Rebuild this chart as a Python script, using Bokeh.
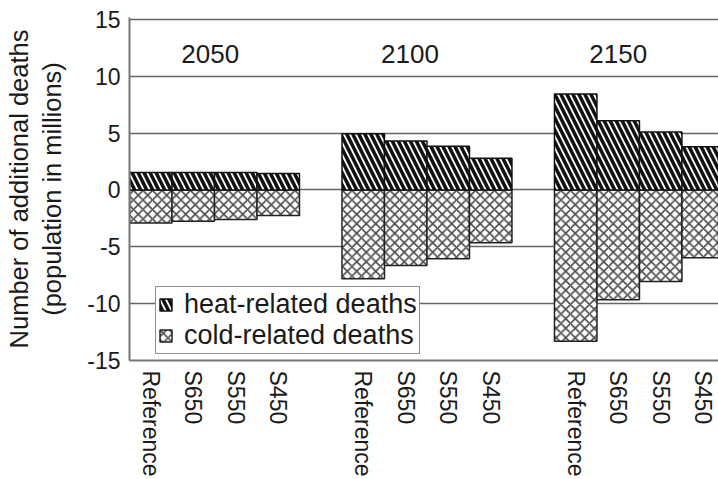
from bokeh.plotting import figure
from bokeh.models import FixedTicker, Range1d, Legend, LegendItem, ColumnDataSource
from bokeh.core.properties import value
from bokeh.embed import file_html
from bokeh.resources import INLINE

years = ["2050", "2100", "2150"]
scenarios = ["Reference", "S650", "S550", "S450"]

heat_2050 = [1.55, 1.55, 1.55, 1.45]
cold_2050 = [-2.9, -2.75, -2.6, -2.25]
heat_2100 = [4.95, 4.3, 3.85, 2.8]
cold_2100 = [-7.8, -6.65, -6.05, -4.65]
heat_2150 = [8.45, 6.1, 5.1, 3.8]
cold_2150 = [-13.3, -9.65, -8.05, -5.95]

year_label_x = [1.9, 6.6, 11.5]
year_label_y = [12, 12, 12]
y_ticks = [-15, -10, -5, 0, 5, 10, 15]
y_tick_labels = ["-15", "-10", "-5", "0", "5", "10", "15"]

FONT = "Liberation Sans"

xs, heat, cold = [], [], []
overrides = {}
for g, (h, c) in enumerate(zip([heat_2050, heat_2100, heat_2150],
                               [cold_2050, cold_2100, cold_2150])):
    for i, s in enumerate(scenarios):
        x = g * 5 + i + 0.5
        xs.append(x)
        heat.append(h[i])
        cold.append(c[i])
        overrides[x] = s

src = ColumnDataSource(dict(x=xs, heat=heat, cold=cold, zero=[0] * len(xs)))

p = figure(width=718, height=479, output_backend="svg", toolbar_location=None,
           x_range=Range1d(0, 13.86), y_range=Range1d(-15, 15.175),
           min_border_left=129, min_border_right=0, min_border_top=17,
           min_border_bottom=117)
p.outline_line_color = None
p.background_fill_color = "white"

p.xgrid.visible = False
p.ygrid.ticker = FixedTicker(ticks=y_ticks)
p.ygrid.grid_line_color = "#666666"
p.ygrid.grid_line_width = 1.5

r_cold = p.vbar(x="x", width=1, top="zero", bottom="cold", source=src,
                fill_color="white", line_color="#222222", line_width=1.5,
                hatch_pattern="x", hatch_color="#4a4a4a", hatch_weight=1.6,
                hatch_scale=9.5)
r_heat = p.vbar(x="x", width=1, top="heat", bottom="zero", source=src,
                fill_color="white", line_color="#111111", line_width=1.5,
                hatch_pattern="\\", hatch_color="#111111", hatch_weight=3.5,
                hatch_scale=12)

p.text(x=year_label_x, y=year_label_y, text=years, text_align="center",
       text_baseline="middle", text_font=value(FONT), text_font_size="26px",
       text_color="#1a1a1a")

yax = p.yaxis[0]
yax.ticker = FixedTicker(ticks=y_ticks)
yax.major_label_overrides = dict(zip(y_ticks, y_tick_labels))
yax.major_tick_out = 0
yax.major_tick_in = 0
yax.minor_tick_out = 0
yax.minor_tick_in = 0
yax.axis_line_color = "#777777"
yax.axis_line_width = 2
yax.major_label_text_font = FONT
yax.major_label_text_font_size = "23px"
yax.major_label_text_color = "#1a1a1a"
yax.major_label_standoff = 9
yax.axis_label = "Number of additional deaths\n(population in millions)"
yax.axis_label_text_font = FONT
yax.axis_label_text_font_size = "25.5px"
yax.axis_label_text_font_style = "normal"
yax.axis_label_text_color = "#1a1a1a"
yax.axis_label_standoff = 18

xax = p.xaxis[0]
xax.ticker = FixedTicker(ticks=xs)
xax.major_label_overrides = overrides
xax.major_label_orientation = "vertical"
xax.major_tick_out = 0
xax.major_tick_in = 0
xax.minor_tick_out = 0
xax.minor_tick_in = 0
xax.axis_line_color = "#777777"
xax.axis_line_width = 2
xax.major_label_text_font = FONT
xax.major_label_text_font_size = "23px"
xax.major_label_text_color = "#1a1a1a"
xax.major_label_standoff = 10

legend = Legend(items=[LegendItem(label="heat-related deaths", renderers=[r_heat]),
                       LegendItem(label="cold-related deaths", renderers=[r_cold])],
                location=(26, 6))
legend.label_text_font = FONT
legend.label_text_font_size = "27px"
legend.label_text_color = "#1a1a1a"
legend.label_height = 15
legend.glyph_width = 15
legend.glyph_height = 15
legend.label_standoff = 11
legend.padding = 2
legend.spacing = 0
legend.margin = 0
legend.border_line_color = "#222222"
legend.border_line_width = 1.5
legend.background_fill_color = "white"
legend.background_fill_alpha = 1.0
p.add_layout(legend)

open("out.html", "w").write(file_html(p, INLINE))
